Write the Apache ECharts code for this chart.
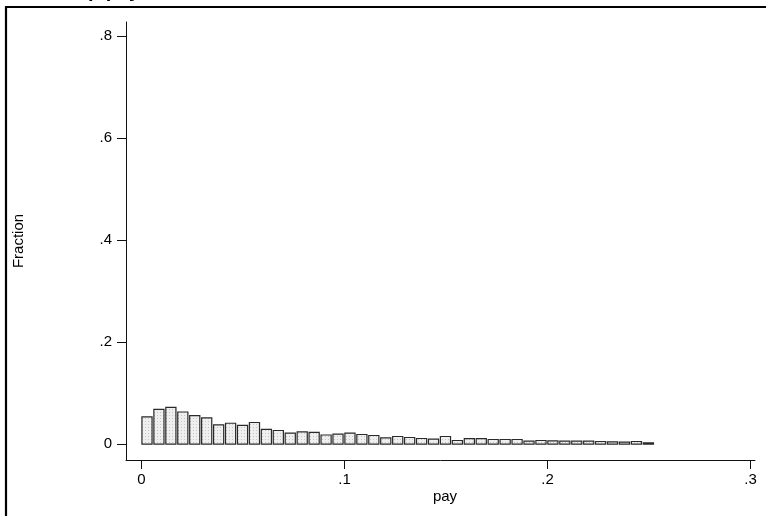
<!DOCTYPE html>
<html>
<head>
<meta charset="utf-8">
<script src="https://cdn.jsdelivr.net/npm/echarts@6/dist/echarts.min.js"></script>
<style>html,body{margin:0;padding:0;background:#fff}#c{width:766px;height:516px}</style>
</head>
<body>
<div id="c"></div>
<script>
// ---- data ----
const titleText = 'a. Group pay';
const xAxisName = 'pay';
const yAxisName = 'Fraction';
const binStart = 0;
const binWidth = 0.00588;
const fractions = [
  0.0535, 0.068, 0.072, 0.063, 0.056, 0.0516, 0.038, 0.041, 0.037, 0.0425,
  0.0288, 0.0268, 0.0215, 0.024, 0.023, 0.018, 0.0196, 0.0216, 0.019, 0.017,
  0.0124, 0.015, 0.0131, 0.0111, 0.0098, 0.015, 0.0072, 0.011, 0.011, 0.0092,
  0.0092, 0.0092, 0.0059, 0.0072, 0.0065, 0.0059, 0.0059, 0.0059, 0.0052, 0.0046,
  0.004, 0.0052, 0.0026
];
const xTickValues = [0, 0.1, 0.2, 0.3];
const xTickLabels = ['0', '.1', '.2', '.3'];
const yTickValues = [0, 0.2, 0.4, 0.6, 0.8];
const yTickLabels = ['0', '.2', '.4', '.6', '.8'];

// dotted fill pattern
const pat = document.createElement('canvas');
pat.width = 3; pat.height = 3;
const pctx = pat.getContext('2d');
pctx.fillStyle = '#efefef'; pctx.fillRect(0, 0, 3, 3);
pctx.fillStyle = '#c4c4c4'; pctx.fillRect(1, 1, 1, 1);

const chart = echarts.init(document.getElementById('c'), null, {renderer: 'canvas'});
const font = 'Liberation Sans, Arial, sans-serif';
const seriesData = fractions.map((v, i) => [i, v]);

chart.setOption({
  animation: false,
  grid: {left: 126, right: 11, top: 22, bottom: 56, containLabel: false},
  xAxis: {
    type: 'value', min: -0.0076, max: 0.3022,
    axisLine: {show: true, onZero: false, lineStyle: {color: '#111', width: 1}},
    axisTick: {show: true, length: 9, lineStyle: {color: '#111'}, customValues: xTickValues},
    axisLabel: {
      customValues: xTickValues, margin: 12, color: '#000', fontSize: 15, fontFamily: font,
      formatter: v => { const k = xTickValues.findIndex(t => Math.abs(t - v) < 1e-9); return k >= 0 ? xTickLabels[k] : ''; }
    },
    splitLine: {show: false}
  },
  yAxis: {
    type: 'value', min: -0.031, max: 0.827,
    axisLine: {show: true, onZero: false, lineStyle: {color: '#111', width: 1}},
    axisTick: {show: true, length: 9, lineStyle: {color: '#111'}, customValues: yTickValues},
    axisLabel: {
      customValues: yTickValues, margin: 14, color: '#000', fontSize: 15, fontFamily: font,
      formatter: v => { const k = yTickValues.findIndex(t => Math.abs(t - v) < 1e-9); return k >= 0 ? yTickLabels[k] : ''; }
    },
    splitLine: {show: false}
  },
  series: [{
    type: 'custom',
    data: seriesData,
    clip: false,
    renderItem: (params, api) => {
      const i = api.value(0);
      const v = api.value(1);
      const x0 = binStart + i * binWidth;
      const p0 = api.coord([x0, 0]);
      const p1 = api.coord([x0 + binWidth, v]);
      const left = p0[0] + 0.5;
      const w = (p1[0] - p0[0]) - 1.8;
      return {
        type: 'rect',
        shape: {x: left, y: p1[1], width: w, height: p0[1] - p1[1]},
        style: {fill: {image: pat, repeat: 'repeat'}, stroke: '#2a2a2a', lineWidth: 1.2}
      };
    }
  }],
  graphic: [
    {type: 'rect', silent: true, shape: {x: 6, y: 7, width: 900, height: 700},
     style: {fill: 'none', stroke: '#000', lineWidth: 2.2}},
    {type: 'text', left: 18, top: -19, silent: true,
     style: {text: titleText, font: 'bold 20px ' + font, fill: '#000'}},
    {type: 'text', silent: true, x: 19, y: 241, rotation: Math.PI / 2,
     style: {text: yAxisName, font: '15px ' + font, fill: '#000', align: 'center', verticalAlign: 'middle'}},
    {type: 'text', silent: true, x: 445, y: 497,
     style: {text: xAxisName, font: '15px ' + font, fill: '#000', align: 'center', verticalAlign: 'middle'}}
  ]
});
</script>
</body>
</html>
